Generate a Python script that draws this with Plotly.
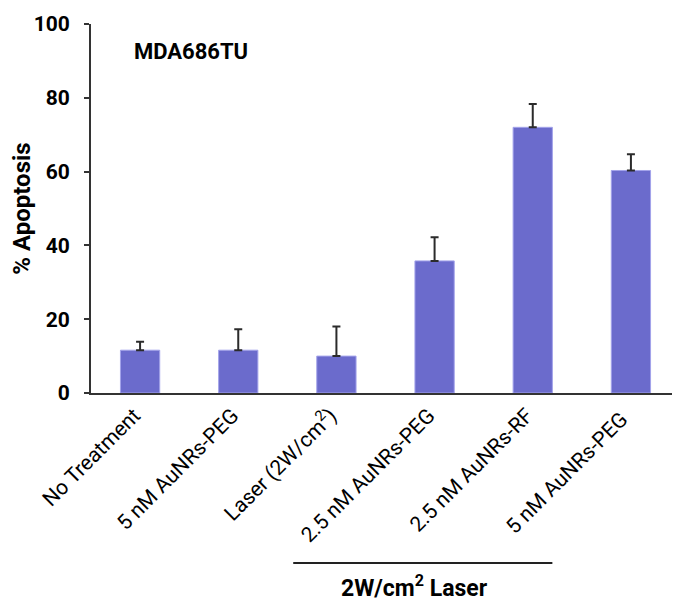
import plotly.graph_objects as go

categories = ["No Treatment", "5 nM AuNRs-PEG", "Laser (2W/cm<sup>2</sup>)",
              "2.5 nM AuNRs-PEG", "2.5 nM AuNRs-RF", "5 nM AuNRs-PEG "]
apoptosis = [11.6, 11.6, 10.0, 35.8, 72.0, 60.3]
error_up = [2.3, 5.7, 8.0, 6.4, 6.3, 4.4]
y_ticks = [0, 20, 40, 60, 80, 100]

FONT = "Roboto"
positions = list(range(len(categories)))
label_shift = 0.06  # rotated labels end just left of bar centre

fig = go.Figure()
fig.add_trace(go.Bar(
    x=positions,
    y=apoptosis,
    width=0.4,
    marker=dict(color="#6b6bcc", line=dict(color="#a3a3ea", width=1)),
    error_y=dict(type="data", array=error_up, arrayminus=[0] * len(error_up),
                 symmetric=False, color="#2b2b2b", thickness=2, width=4),
))

# page has an 8px body margin: shrink figure so it sits at the reference positions
fig.update_layout(
    width=672, height=594,
    margin=dict(l=83, r=0, t=16, b=209),
    plot_bgcolor="white", paper_bgcolor="white",
    showlegend=False,
    font=dict(family=FONT, color="black"),
    xaxis=dict(
        range=[-0.5, 5.5],
        tickmode="array", tickvals=[p - label_shift for p in positions], ticktext=categories,
        tickangle=-45, tickfont=dict(size=21, family=FONT, color="black"),
        showline=True, linecolor="#333333", linewidth=2,
        ticks="", showgrid=False, zeroline=False, fixedrange=True,
    ),
    yaxis=dict(
        range=[0, 100], tickvals=y_ticks,
        tickfont=dict(size=21, family=FONT, color="black", weight="bold"),
        showline=True, linecolor="#333333", linewidth=2,
        ticks="outside", ticklen=5, tickwidth=2, tickcolor="#333333",
        ticklabelstandoff=10,
        showgrid=False, zeroline=False,
        title=dict(text="% Apoptosis", standoff=3,
                   font=dict(size=24, family=FONT, color="black", weight="bold")),
    ),
)

fig.add_annotation(
    text="MDA686TU", xref="paper", yref="y", x=0.07, y=92.5, xanchor="left",
    showarrow=False, font=dict(size=22, family=FONT, color="black", weight="bold"),
)

fig.add_shape(type="line", xref="x", yref="paper", x0=1.56, x1=4.2, y0=-0.461, y1=-0.461,
              line=dict(color="#222222", width=2))
fig.add_annotation(
    text="2W/cm<sup>2</sup> Laser", xref="x", yref="paper", x=2.8, y=-0.572,
    showarrow=False, font=dict(size=23, family=FONT, color="black", weight="bold"),
)

fig.write_html("out.html")
